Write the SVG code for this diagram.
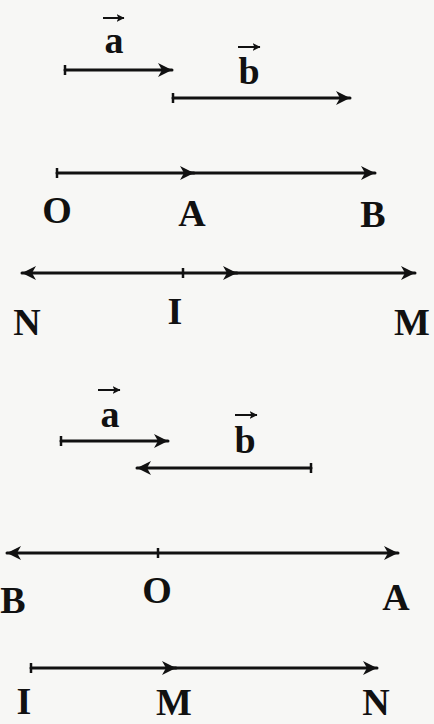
<svg xmlns="http://www.w3.org/2000/svg" width="434" height="724" viewBox="0 0 434 724">
<style>
.ln{stroke:#111;stroke-width:3;fill:none;stroke-linecap:round}
.tk{stroke:#111;stroke-width:2.5}
.ov{stroke:#111;stroke-width:2;fill:none}
.lb{font-family:"Liberation Serif",serif;font-weight:bold;font-size:38px;fill:#111;text-anchor:middle}
</style>
<defs>
<marker id="ah" markerUnits="userSpaceOnUse" markerWidth="16" markerHeight="16" viewBox="0 0 16 16" refX="15" refY="8" orient="auto-start-reverse">
<path d="M1,1 L15,8 L1,15 L5,8 z" fill="#111"/>
</marker>
<marker id="sa" markerUnits="userSpaceOnUse" markerWidth="8" markerHeight="8" viewBox="0 0 8 8" refX="7.5" refY="4" orient="auto">
<path d="M0,0 L8,4 L0,8 L2,4 z" fill="#111"/>
</marker>
</defs>
<rect width="434" height="724" fill="#f7f7f5"/>
<g id="connectors">
<line class="ln" x1="65" y1="70" x2="172" y2="70" marker-end="url(#ah)"/>
<line class="tk" x1="65" y1="65" x2="65" y2="75"/>
<line class="ln" x1="173" y1="98" x2="350" y2="98" marker-end="url(#ah)"/>
<line class="tk" x1="173" y1="93" x2="173" y2="103"/>
<line class="ln" x1="57" y1="173" x2="194" y2="173" marker-end="url(#ah)"/>
<line class="ln" x1="190" y1="173" x2="375" y2="173" marker-end="url(#ah)"/>
<line class="tk" x1="57" y1="168" x2="57" y2="178"/>
<line class="ln" x1="22" y1="273" x2="237" y2="273" marker-start="url(#ah)" marker-end="url(#ah)"/>
<line class="ln" x1="233" y1="273" x2="415" y2="273" marker-end="url(#ah)"/>
<line class="tk" x1="183" y1="268" x2="183" y2="278"/>
<line class="ln" x1="61" y1="441" x2="168" y2="441" marker-end="url(#ah)"/>
<line class="tk" x1="61" y1="436" x2="61" y2="446"/>
<line class="ln" x1="311" y1="468" x2="137" y2="468" marker-end="url(#ah)"/>
<line class="tk" x1="311" y1="463" x2="311" y2="473"/>
<line class="ln" x1="7" y1="553" x2="398" y2="553" marker-start="url(#ah)" marker-end="url(#ah)"/>
<line class="tk" x1="158" y1="548" x2="158" y2="558"/>
<line class="ln" x1="31" y1="668" x2="176" y2="668" marker-end="url(#ah)"/>
<line class="ln" x1="172" y1="668" x2="377" y2="668" marker-end="url(#ah)"/>
<line class="tk" x1="31" y1="663" x2="31" y2="673"/>
</g>
<g id="vec-a-1"><text class="lb" x="114" y="53">a</text><line class="ov" x1="103" y1="18" x2="124" y2="18" marker-end="url(#sa)"/></g>
<g id="vec-b-1"><text class="lb" x="249" y="84">b</text><line class="ov" x1="238" y1="47" x2="260" y2="47" marker-end="url(#sa)"/></g>
<g id="pt-O-1"><text class="lb" x="57" y="223">O</text></g>
<g id="pt-A-1"><text class="lb" x="192" y="226">A</text></g>
<g id="pt-B-1"><text class="lb" x="373" y="227">B</text></g>
<g id="pt-N-2"><text class="lb" x="27" y="335">N</text></g>
<g id="pt-I-2"><text class="lb" x="175" y="324">I</text></g>
<g id="pt-M-2"><text class="lb" x="412" y="335">M</text></g>
<g id="vec-a-2"><text class="lb" x="110" y="427">a</text><line class="ov" x1="98" y1="390" x2="120" y2="390" marker-end="url(#sa)"/></g>
<g id="vec-b-2"><text class="lb" x="245" y="453">b</text><line class="ov" x1="235" y1="415" x2="257" y2="415" marker-end="url(#sa)"/></g>
<g id="pt-B-3"><text class="lb" x="13" y="613">B</text></g>
<g id="pt-O-3"><text class="lb" x="157" y="603">O</text></g>
<g id="pt-A-3"><text class="lb" x="396" y="610">A</text></g>
<g id="pt-I-4"><text class="lb" x="24" y="714">I</text></g>
<g id="pt-M-4"><text class="lb" x="174" y="715">M</text></g>
<g id="pt-N-4"><text class="lb" x="376" y="715">N</text></g>
</svg>
